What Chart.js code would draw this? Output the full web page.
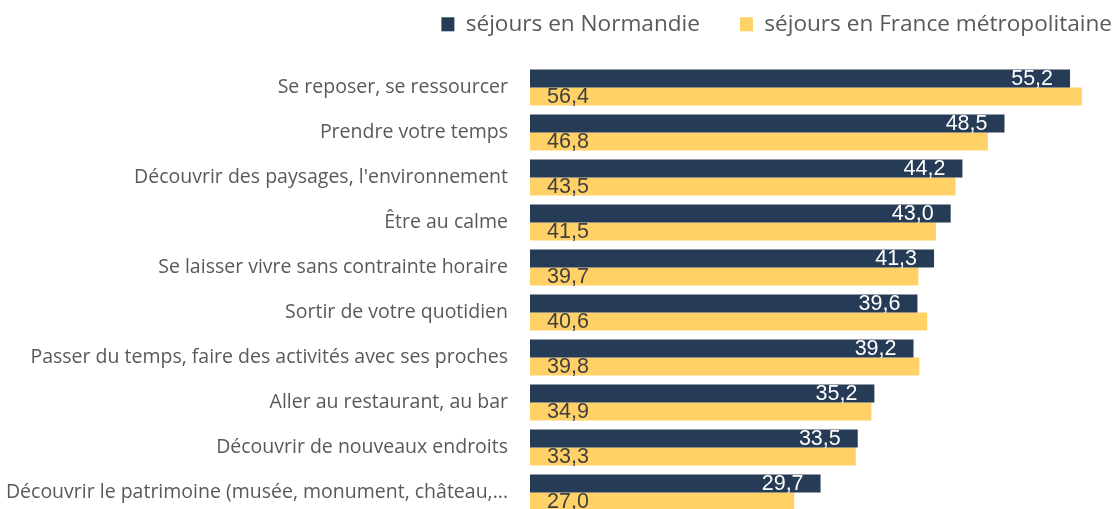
<!DOCTYPE html>
<html>
<head>
<meta charset="utf-8">
<script src="https://cdn.jsdelivr.net/npm/chart.js@4.4.1/dist/chart.umd.min.js"></script>
<style>
  html, body { margin: 0; padding: 0; background: #fff; overflow: hidden; }
  #wrap { position: relative; width: 1120px; height: 516px; }
</style>
</head>
<body>
<div id="wrap"><canvas id="motifsChart"></canvas></div>
<script>
const categories = [
    "Se reposer, se ressourcer",
    "Prendre votre temps",
    "Découvrir des paysages, l'environnement",
    "Être au calme",
    "Se laisser vivre sans contrainte horaire",
    "Sortir de votre quotidien",
    "Passer du temps, faire des activités avec ses proches",
    "Aller au restaurant, au bar",
    "Découvrir de nouveaux endroits",
    "Découvrir le patrimoine (musée, monument, château,..."
];
const normandie = [55.2, 48.5, 44.2, 43.0, 41.3, 39.6, 39.2, 35.2, 33.5, 29.7];
const franceMetro = [56.4, 46.8, 43.5, 41.5, 39.7, 40.6, 39.8, 34.9, 33.3, 27.0];
const seriesNames = ["séjours en Normandie", "séjours en France métropolitaine"];

const NAVY = '#263b55';
const YELLOW = '#ffd166';

// valeurs écrites dans les barres : à droite pour la Normandie, à gauche pour la France
const valueLabels = {
    id: 'valueLabels',
    afterLayout(chart) {
        // la légende garde un grand écart entre les items mais remonte en haut
        const lg = chart.legend;
        const h = lg.bottom - lg.top;
        lg.top = -27;
        lg.bottom = lg.top + h;
        lg.right = chart.width + 32;
    },
    afterDatasetsDraw(chart) {
        const ctx = chart.ctx;
        ctx.save();
        ctx.font = '21.5px "Liberation Sans", Arial, sans-serif';
        ctx.textBaseline = 'middle';
        chart.data.datasets.forEach((ds, i) => {
            chart.getDatasetMeta(i).data.forEach((bar, j) => {
                const txt = ds.data[j].toFixed(1).replace('.', ',');
                if (i === 0) {
                    ctx.fillStyle = '#ffffff';
                    ctx.textAlign = 'right';
                    ctx.fillText(txt, bar.x - 17, bar.y + 1);
                } else {
                    ctx.fillStyle = '#404040';
                    ctx.textAlign = 'left';
                    ctx.fillText(txt, bar.base + 17, bar.y + 1);
                }
            });
        });
        ctx.restore();
    }
};

const data = {
    labels: categories,
    datasets: [
        {
            label: seriesNames[0],
            data: normandie,
            backgroundColor: NAVY,
            borderWidth: 0
        },
        {
            label: seriesNames[1],
            data: franceMetro,
            backgroundColor: YELLOW,
            borderWidth: 0
        }
    ]
};

const config = {
    type: 'bar',
    data: data,
    plugins: [valueLabels],
    options: {
        indexAxis: 'y',
        maintainAspectRatio: false,
        animation: false,
        layout: {
            padding: { top: 0, right: 3, bottom: 1, left: 0 }
        },
        datasets: {
            bar: {
                categoryPercentage: 0.8,
                barPercentage: 1
            }
        },
        plugins: {
            legend: {
                position: 'top',
                align: 'end',
                maxHeight: 65,
                labels: {
                    boxWidth: 13,
                    boxHeight: 14,
                    padding: 40,
                    color: '#595959',
                    font: { family: '"Open Sans", sans-serif', size: 22.6 }
                }
            },
            tooltip: { enabled: false }
        },
        scales: {
            x: {
                display: false,
                min: 0,
                max: 60
            },
            y: {
                grid: { display: false, drawTicks: false },
                border: { display: false },
                afterFit(scale) {
                    scale.width = 530;
                    scale.paddingTop = 0;
                    scale.paddingBottom = 0;
                },
                ticks: {
                    padding: 22,
                    color: '#595959',
                    font: { family: '"Open Sans", sans-serif', size: 19.5 }
                }
            }
        }
    }
};

const motifsChart = new Chart(document.getElementById('motifsChart'), config);
</script>
</body>
</html>
